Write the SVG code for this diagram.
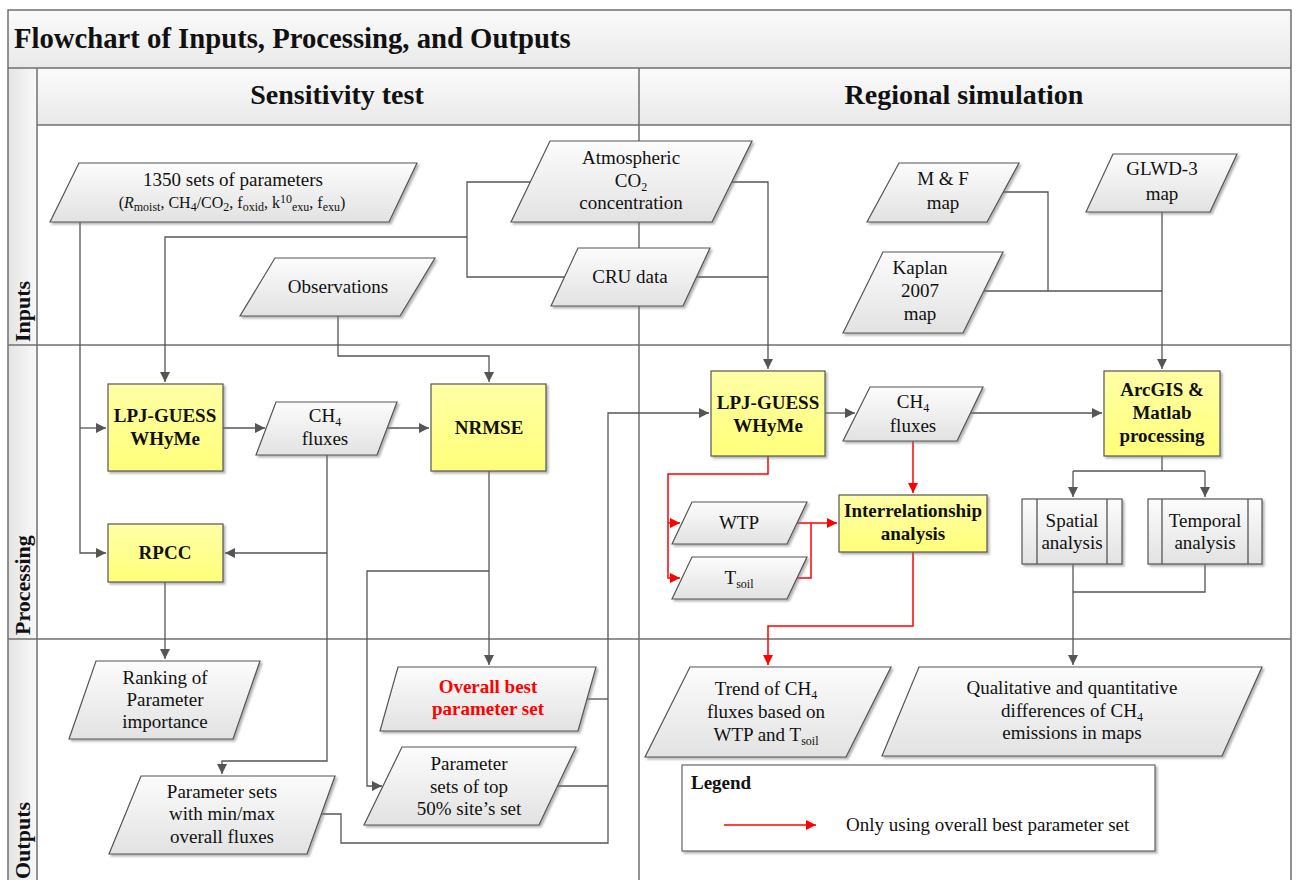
<svg xmlns="http://www.w3.org/2000/svg" width="1299" height="880" viewBox="0 0 1299 880">
<defs>
<linearGradient id="gBand" x1="0" y1="0" x2="0" y2="1"><stop offset="0" stop-color="#fbfbfb"/><stop offset="1" stop-color="#e9e9e9"/></linearGradient>
<linearGradient id="gStrip" x1="0" y1="0" x2="1" y2="0"><stop offset="0" stop-color="#e4e4e4"/><stop offset="1" stop-color="#f9f9f9"/></linearGradient>
<linearGradient id="gPara" x1="0" y1="0" x2="0" y2="1"><stop offset="0" stop-color="#fcfcfc"/><stop offset="1" stop-color="#e2e2e2"/></linearGradient>
<linearGradient id="gYel" x1="0" y1="0" x2="0" y2="1"><stop offset="0" stop-color="#ffffa6"/><stop offset="1" stop-color="#ffff7a"/></linearGradient>
<filter id="sh" x="-10%" y="-10%" width="130%" height="130%"><feDropShadow dx="2" dy="2" stdDeviation="1.2" flood-color="#777" flood-opacity="0.55"/></filter>
<marker id="ag" markerUnits="userSpaceOnUse" markerWidth="11" markerHeight="10" refX="10" refY="5" orient="auto"><path d="M0,0 L10,5 L0,10 z" fill="#555"/></marker>
<marker id="ar" markerUnits="userSpaceOnUse" markerWidth="11" markerHeight="10" refX="10" refY="5" orient="auto"><path d="M0,0 L10,5 L0,10 z" fill="#f00"/></marker>
<style>
.ln{fill:none;stroke:#555;stroke-width:1.3}
.rd{fill:none;stroke:#f00;stroke-width:1.5}
.frm{fill:none;stroke:#707070;stroke-width:1.5}
.para{fill:url(#gPara);stroke:#555;stroke-width:1.2;filter:url(#sh)}
.ybox{fill:url(#gYel);stroke:#555;stroke-width:1.2;filter:url(#sh)}
.gbox{fill:url(#gPara);stroke:#555;stroke-width:1.2;filter:url(#sh)}
.t{font-family:"Liberation Serif","Times New Roman",serif;font-size:19px;fill:#111;text-anchor:middle}
.tb{font-family:"Liberation Serif","Times New Roman",serif;font-size:19px;font-weight:bold;fill:#111;text-anchor:middle}
.hd{font-family:"Liberation Serif","Times New Roman",serif;font-size:28px;font-weight:bold;fill:#111}
.lane{font-family:"Liberation Serif","Times New Roman",serif;font-size:22px;font-weight:bold;fill:#111}
.sub{font-size:12px}
</style>
</defs>

<g id="frame">
<rect x="8" y="10" width="1283" height="58" fill="url(#gBand)"/>
<rect x="8" y="68" width="1283" height="57" fill="url(#gBand)"/>
<rect x="8" y="68" width="29" height="820" fill="url(#gStrip)"/>
<path class="frm" d="M8,890 V10 H1291 V890"/>
<path class="frm" d="M8,68 H1291 M37,125 H1291 M8,345 H1291 M8,639 H1291 M37,68 V890 M639,68 V890"/>
<text class="hd" x="14" y="48" style="font-size:28.7px">Flowchart of Inputs, Processing, and Outputs</text>
<text class="hd" x="337" y="104" text-anchor="middle">Sensitivity test</text>
<text class="hd" x="964" y="104" text-anchor="middle">Regional simulation</text>
<text class="lane" transform="translate(30,342) rotate(-90)">Inputs</text>
<text class="lane" transform="translate(30,635) rotate(-90)">Processing</text>
<text class="lane" transform="translate(30,879) rotate(-90)">Outputs</text>
</g>

<g id="connectors">
<path class="ln" d="M80,222 V553 H106" marker-end="url(#ag)"/>
<path class="ln" d="M80,428 H106" marker-end="url(#ag)"/>
<path class="ln" d="M530,182 H467 V277 H565"/>
<path class="ln" d="M467,237 H165 V382" marker-end="url(#ag)"/>
<path class="ln" d="M732,182 H768 V369" marker-end="url(#ag)"/>
<path class="ln" d="M696,277 H768"/>
<path class="ln" d="M338,316 V356 H489 V382" marker-end="url(#ag)"/>
<path class="ln" d="M223,428 H265" marker-end="url(#ag)"/>
<path class="ln" d="M387,428 H429" marker-end="url(#ag)"/>
<path class="ln" d="M327,455 V761 H222 V774" marker-end="url(#ag)"/>
<path class="ln" d="M327,553 H225" marker-end="url(#ag)"/>
<path class="ln" d="M165,582 V659" marker-end="url(#ag)"/>
<path class="ln" d="M489,471 V665" marker-end="url(#ag)"/>
<path class="ln" d="M489,571 H367 V786 H382" marker-end="url(#ag)"/>
<path class="ln" d="M587,699 H608"/>
<path class="ln" d="M557,786 H608"/>
<path class="ln" d="M321,814 H341 V843 H608 V413 H709" marker-end="url(#ag)"/>
<path class="ln" d="M825,413 H855" marker-end="url(#ag)"/>
<path class="ln" d="M970,413 H1102" marker-end="url(#ag)"/>
<path class="ln" d="M1003,192 H1048 V291"/>
<path class="ln" d="M984,291 H1162"/>
<path class="ln" d="M1162,212 V369" marker-end="url(#ag)"/>
<path class="ln" d="M1162,456 V471 M1073,471 H1205"/>
<path class="ln" d="M1073,471 V497" marker-end="url(#ag)"/>
<path class="ln" d="M1205,471 V497" marker-end="url(#ag)"/>
<path class="ln" d="M1205,564 V592 H1073"/>
<path class="ln" d="M1073,564 V665" marker-end="url(#ag)"/>
<path class="rd" d="M768,456 V474 H668 V578 H680" marker-end="url(#ar)"/>
<path class="rd" d="M668,523 H680" marker-end="url(#ar)"/>
<path class="rd" d="M797,523 H837" marker-end="url(#ar)"/>
<path class="rd" d="M797,578 H811 V523"/>
<path class="rd" d="M913,441 V493" marker-end="url(#ar)"/>
<path class="rd" d="M913,552 V626 H768 V665" marker-end="url(#ar)"/>
</g>

<g id="n-params">
<polygon class="para" points="79,163 417,163 389,222 50,222"/>
<text class="t" x="233" y="186">1350 sets of parameters</text>
<text class="t" x="232" y="208" style="font-size:16px">(<tspan font-style="italic">R</tspan><tspan class="sub" dy="3">moist</tspan><tspan dy="-3">, CH</tspan><tspan class="sub" dy="3">4</tspan><tspan dy="-3">/CO</tspan><tspan class="sub" dy="3">2</tspan><tspan dy="-3">, f</tspan><tspan class="sub" dy="3">oxid</tspan><tspan dy="-3">, k</tspan><tspan class="sub" dy="-5">10</tspan><tspan class="sub" dy="8">exu</tspan><tspan dy="-3">, f</tspan><tspan class="sub" dy="3">exu</tspan><tspan dy="-3">)</tspan></text>
</g>
<g id="n-atm">
<polygon class="para" points="550,141 752,141 712,222 511,222"/>
<text class="t" x="631" y="164">Atmospheric</text>
<text class="t" x="631" y="187">CO<tspan class="sub" dy="4">2</tspan></text>
<text class="t" x="631" y="209">concentration</text>
</g>
<g id="n-cru">
<polygon class="para" points="578,248 710,248 683,306 551,306"/>
<text class="t" x="630" y="283">CRU data</text>
</g>
<g id="n-obs">
<polygon class="para" points="275,258 435,258 400,316 240,316"/>
<text class="t" x="338" y="293">Observations</text>
</g>
<g id="n-mf">
<polygon class="para" points="899,163 1019,163 987,222 867,222"/>
<text class="t" x="943" y="185">M &amp; F</text>
<text class="t" x="943" y="209">map</text>
</g>
<g id="n-glwd">
<polygon class="para" points="1113,154 1237,154 1210,212 1086,212"/>
<text class="t" x="1162" y="175">GLWD-3</text>
<text class="t" x="1162" y="200">map</text>
</g>
<g id="n-kaplan">
<polygon class="para" points="883,252 1003,252 963,333 843,333"/>
<text class="t" x="920" y="274">Kaplan</text>
<text class="t" x="920" y="297">2007</text>
<text class="t" x="920" y="320">map</text>
</g>

<g id="n-lpj1">
<rect class="ybox" x="108" y="384" width="115" height="87"/>
<text class="tb" x="165" y="422">LPJ-GUESS</text>
<text class="tb" x="165" y="445">WHyMe</text>
</g>
<g id="n-ch4a">
<polygon class="para" points="276,402 397,402 377,455 256,455"/>
<text class="t" x="325" y="422">CH<tspan class="sub" dy="4">4</tspan></text>
<text class="t" x="325" y="445">fluxes</text>
</g>
<g id="n-nrmse">
<rect class="ybox" x="431" y="384" width="115" height="87"/>
<text class="tb" x="489" y="434">NRMSE</text>
</g>
<g id="n-rpcc">
<rect class="ybox" x="108" y="524" width="115" height="58"/>
<text class="tb" x="165" y="559">RPCC</text>
</g>
<g id="n-lpj2">
<rect class="ybox" x="711" y="371" width="114" height="85"/>
<text class="tb" x="768" y="409">LPJ-GUESS</text>
<text class="tb" x="768" y="432">WHyMe</text>
</g>
<g id="n-ch4b">
<polygon class="para" points="870,387 983,387 957,441 843,441"/>
<text class="t" x="913" y="408">CH<tspan class="sub" dy="4">4</tspan></text>
<text class="t" x="913" y="432">fluxes</text>
</g>
<g id="n-arc">
<rect class="ybox" x="1104" y="371" width="116" height="85"/>
<text class="tb" x="1162" y="396">ArcGIS &amp;</text>
<text class="tb" x="1162" y="419">Matlab</text>
<text class="tb" x="1162" y="442">processing</text>
</g>
<g id="n-wtp">
<polygon class="para" points="692,502 807,502 787,544 672,544"/>
<text class="t" x="739" y="529">WTP</text>
</g>
<g id="n-tsoil">
<polygon class="para" points="692,557 807,557 787,599 672,599"/>
<text class="t" x="739" y="584">T<tspan class="sub" dy="4">soil</tspan></text>
</g>
<g id="n-inter">
<rect class="ybox" x="839" y="495" width="148" height="57"/>
<text class="tb" x="913" y="517">Interrelationship</text>
<text class="tb" x="913" y="540">analysis</text>
</g>
<g id="n-spatial">
<rect class="gbox" x="1022" y="499" width="100" height="65"/>
<path class="ln" d="M1037,499 V564 M1107,499 V564"/>
<text class="t" x="1072" y="527">Spatial</text>
<text class="t" x="1072" y="549">analysis</text>
</g>
<g id="n-temporal">
<rect class="gbox" x="1148" y="499" width="114" height="65"/>
<path class="ln" d="M1162,499 V564 M1248,499 V564"/>
<text class="t" x="1205" y="527">Temporal</text>
<text class="t" x="1205" y="549">analysis</text>
</g>

<g id="n-rank">
<polygon class="para" points="96,661 260,661 233,739 69,739"/>
<text class="t" x="165" y="684">Ranking of</text>
<text class="t" x="165" y="706">Parameter</text>
<text class="t" x="165" y="728">importance</text>
</g>
<g id="n-best">
<polygon class="para" points="398,667 596,667 578,731 380,731"/>
<text class="tb" x="488" y="693" style="fill:#f00">Overall best</text>
<text class="tb" x="488" y="715" style="fill:#f00">parameter set</text>
</g>
<g id="n-top50">
<polygon class="para" points="402,747 576,747 539,825 364,825"/>
<text class="t" x="469" y="770">Parameter</text>
<text class="t" x="469" y="793">sets of top</text>
<text class="t" x="469" y="815">50% site’s set</text>
</g>
<g id="n-minmax">
<polygon class="para" points="141,776 335,776 307,854 109,854"/>
<text class="t" x="222" y="798">Parameter sets</text>
<text class="t" x="222" y="820">with min/max</text>
<text class="t" x="222" y="843">overall fluxes</text>
</g>
<g id="n-trend">
<polygon class="para" points="690,667 891,667 846,757 645,757"/>
<text class="t" x="766" y="695">Trend of CH<tspan class="sub" dy="4">4</tspan></text>
<text class="t" x="766" y="718">fluxes based on</text>
<text class="t" x="766" y="741">WTP and T<tspan class="sub" dy="4">soil</tspan></text>
</g>
<g id="n-qual">
<polygon class="para" points="919,667 1262,667 1222,756 882,756"/>
<text class="t" x="1072" y="694">Qualitative and quantitative</text>
<text class="t" x="1072" y="717">differences of CH<tspan class="sub" dy="4">4</tspan></text>
<text class="t" x="1072" y="739">emissions in maps</text>
</g>
<g id="legend">
<rect x="682" y="765" width="473" height="86" fill="#fff" stroke="#666" stroke-width="1.2" filter="url(#sh)"/>
<text class="tb" x="691" y="789" style="text-anchor:start">Legend</text>
<path class="rd" d="M724,825 H816" marker-end="url(#ar)"/>
<text class="t" x="846" y="831" style="text-anchor:start">Only using overall best parameter set</text>
</g>
</svg>
